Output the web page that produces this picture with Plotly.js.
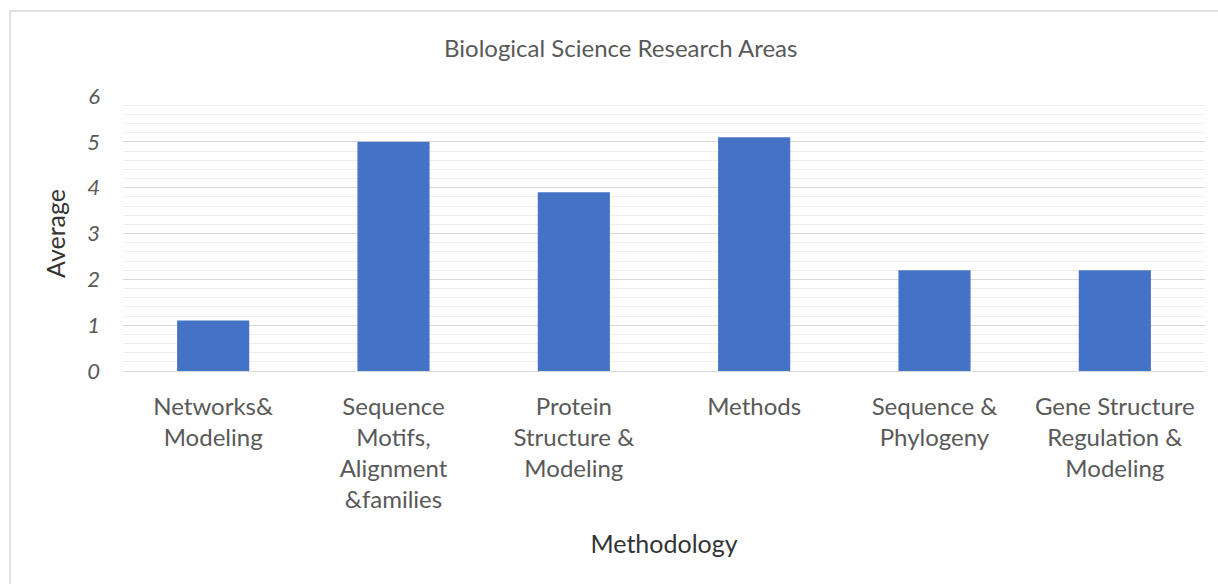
<!DOCTYPE html>
<html>
<head>
<meta charset="utf-8">
<script src="https://cdn.plot.ly/plotly-3.0.1.min.js"></script>
<style>
html,body{margin:0;padding:0;background:#fff;}
#chart{width:1218px;height:584px;}
</style>
</head>
<body>
<div id="chart"></div>
<script>
const categories = [
  "Networks&<br>Modeling",
  "Sequence<br>Motifs,<br>Alignment<br>&families",
  "Protein<br>Structure &<br>Modeling",
  "Methods",
  "Sequence &<br>Phylogeny",
  "Gene Structure<br>Regulation &<br>Modeling"
];
const averages = [1.1, 5.0, 3.9, 5.1, 2.2, 2.2];
const yTicks = [0, 1, 2, 3, 4, 5, 6];

const font = "Lato, 'Open Sans', sans-serif";
const grey = "#595959";

const trace = {
  type: "bar",
  x: categories,
  y: averages,
  marker: {color: "#4472C4"},
  hoverinfo: "x+y"
};

const layout = {
  width: 1218,
  height: 584,
  margin: {l: 123, r: 13, t: 96, b: 213},
  paper_bgcolor: "#ffffff",
  plot_bgcolor: "#ffffff",
  bargap: 0.6,
  showlegend: false,
  font: {family: font, color: grey},
  title: {
    text: "Biological Science Research Areas",
    font: {family: font, size: 24, color: grey},
    xref: "paper", x: 0.46, xanchor: "center",
    yref: "container", y: 0.917, yanchor: "middle"
  },
  xaxis: {
    type: "category",
    showline: true,
    linecolor: "#d9d9d9",
    linewidth: 1,
    ticks: "",
    tickfont: {family: font, size: 24, color: grey},
    ticklabelstandoff: 14,
    showgrid: false,
    zeroline: false,
    title: {text: "Methodology", font: {family: font, size: 25, color: "#333333"}, standoff: 23}
  },
  yaxis: {
    range: [0, 6],
    tickvals: yTicks,
    ticktext: yTicks.map(v => "<i>" + v + "</i>"),
    tickfont: {family: font, size: 22, color: grey},
    ticks: "",
    ticklabelstandoff: 22,
    showgrid: true,
    gridcolor: "#d9d9d9",
    gridwidth: 1,
    zeroline: false,
    showline: false,
    minor: {dtick: 0.2, showgrid: true, gridcolor: "#efefef", gridwidth: 1},
    title: {text: "Average", font: {family: font, size: 25, color: "#333333"}, standoff: 14}
  },
  shapes: [
    {type: "line", xref: "paper", yref: "paper", x0: -0.1044, x1: 1.02, y0: 1.309, y1: 1.309,
     line: {color: "#d9d9d9", width: 1.5}},
    {type: "line", xref: "paper", yref: "paper", x0: -0.1044, x1: -0.1044, y0: 1.309, y1: -0.78,
     line: {color: "#d9d9d9", width: 1.5}}
  ]
};

Plotly.newPlot("chart", [trace], layout, {displayModeBar: false, staticPlot: true});
</script>
</body>
</html>
